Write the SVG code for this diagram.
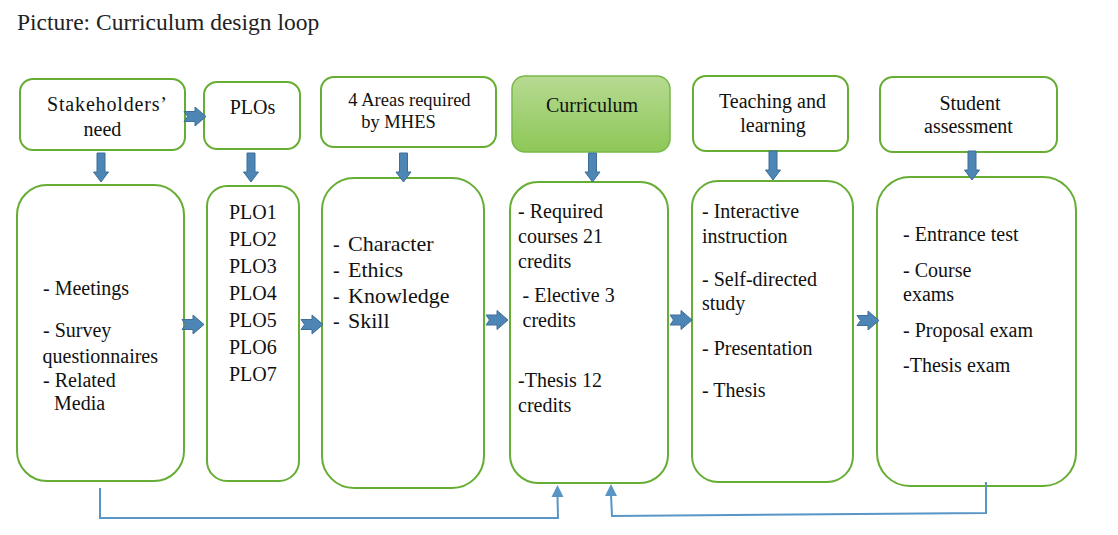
<svg xmlns="http://www.w3.org/2000/svg" width="1118" height="535" viewBox="0 0 1118 535">
<style>
  .box{fill:#fff;stroke:#66ad33;stroke-width:2}
  .t{font-family:"Liberation Serif","DejaVu Serif","Noto Serif",serif;font-size:20px;fill:#111}
  .m{text-anchor:middle}
  .big{font-size:22px}
  .sm{font-size:18.5px}
  .blk{fill:#4d86b5;stroke:#3f6f98;stroke-width:1}
  .fb{fill:none;stroke:#5a96c5;stroke-width:2}
  .ah{fill:#5a96c5}
</style>
<defs>
  <linearGradient id="g" x1="0" y1="0" x2="0" y2="1">
    <stop offset="0" stop-color="#b7da92"/>
    <stop offset="1" stop-color="#8dc757"/>
  </linearGradient>
  <path id="down" d="M-4,0 H4 V19 H7.5 L0,29 L-7.5,19 H-4 Z"/>
  <path id="right" d="M0,4.5 H11 V0 L22,9.5 L11,19 V14.5 H0 L3.5,9.5 Z"/>
</defs>

<g font-family="Liberation Serif, DejaVu Serif, serif">
<text class="t" x="17" y="30" style="font-size:23.5px;fill:#222">Picture: Curriculum design loop</text>

<g id="stakeholders">
  <rect class="box" x="20" y="79" width="165" height="71" rx="13"/>
  <text class="t" x="47" y="111" textLength="120" lengthAdjust="spacing">Stakeholders’</text>
  <text class="t m" x="102.5" y="136">need</text>
</g>
<g id="plos">
  <rect class="box" x="204" y="82" width="96" height="67" rx="13"/>
  <text class="t m" x="252.5" y="114">PLOs</text>
</g>
<g id="areas">
  <rect class="box" x="321" y="77" width="175" height="70" rx="13"/>
  <text class="t m sm" x="409.5" y="105.5">4 Areas required</text>
  <text class="t m sm" x="398.5" y="128">by MHES</text>
</g>
<g id="curriculum">
  <rect x="512" y="76" width="158" height="76" rx="13" fill="url(#g)" stroke="#7ab84b" stroke-width="1.5"/>
  <text class="t m" x="592" y="111.5">Curriculum</text>
</g>
<g id="teaching">
  <rect class="box" x="693" y="76" width="155" height="75" rx="13"/>
  <text class="t m" x="772.5" y="108">Teaching and</text>
  <text class="t m" x="773" y="131.5">learning</text>
</g>
<g id="assessment">
  <rect class="box" x="880" y="77" width="177" height="75" rx="13"/>
  <text class="t m" x="970" y="110">Student</text>
  <text class="t m" x="968.5" y="133">assessment</text>
</g>

<g id="methods">
  <rect class="box" x="17" y="185" width="167" height="296" rx="30"/>
  <text class="t" x="43" y="295">- Meetings</text>
  <text class="t" x="43" y="337">- Survey</text>
  <text class="t" x="42.5" y="362.5">questionnaires</text>
  <text class="t" x="43" y="387">- Related</text>
  <text class="t" x="54" y="410">Media</text>
</g>
<g id="plo-list">
  <rect class="box" x="207" y="186" width="92" height="295" rx="20"/>
  <text class="t" x="229" y="219">PLO1</text>
  <text class="t" x="229" y="246">PLO2</text>
  <text class="t" x="229" y="273">PLO3</text>
  <text class="t" x="229" y="300">PLO4</text>
  <text class="t" x="229" y="327">PLO5</text>
  <text class="t" x="229" y="354">PLO6</text>
  <text class="t" x="229" y="381">PLO7</text>
</g>
<g id="areas-list">
  <rect class="box" x="322" y="178" width="162" height="310" rx="32"/>
  <text class="t" x="333" y="250.5">-</text>
  <text class="t big" x="348" y="250.5">Character</text>
  <text class="t" x="333" y="276.5">-</text>
  <text class="t big" x="348" y="276.5">Ethics</text>
  <text class="t" x="333" y="303">-</text>
  <text class="t big" x="348" y="303">Knowledge</text>
  <text class="t" x="333" y="328">-</text>
  <text class="t big" x="348" y="328">Skill</text>
</g>
<g id="courses">
  <rect class="box" x="510" y="182" width="158" height="301" rx="28"/>
  <text class="t" x="518" y="218">- Required</text>
  <text class="t" x="518" y="243">courses 21</text>
  <text class="t" x="518" y="268">credits</text>
  <text class="t" x="522.5" y="301.5">- Elective 3</text>
  <text class="t" x="522.5" y="326.5">credits</text>
  <text class="t" x="518" y="386.5">-Thesis 12</text>
  <text class="t" x="518" y="411.5">credits</text>
</g>
<g id="teaching-list">
  <rect class="box" x="692" y="181" width="161" height="301" rx="26"/>
  <text class="t" x="702" y="218">- Interactive</text>
  <text class="t" x="702" y="242.5">instruction</text>
  <text class="t" x="702" y="286">- Self-directed</text>
  <text class="t" x="702" y="310">study</text>
  <text class="t" x="702" y="355">- Presentation</text>
  <text class="t" x="702" y="397">- Thesis</text>
</g>
<g id="assessment-list">
  <rect class="box" x="877" y="177" width="199" height="309" rx="33"/>
  <text class="t" x="903" y="240.5">- Entrance test</text>
  <text class="t" x="903" y="277">- Course</text>
  <text class="t" x="903" y="301">exams</text>
  <text class="t" x="903" y="336.5">- Proposal exam</text>
  <text class="t" x="903" y="371.5">-Thesis exam</text>
</g>
</g>

<g id="connectors">
  <use href="#down" class="blk" transform="translate(101,153)"/>
  <use href="#down" class="blk" transform="translate(251,153)"/>
  <use href="#down" class="blk" transform="translate(403.5,153)"/>
  <use href="#down" class="blk" transform="translate(592.5,153)"/>
  <use href="#down" class="blk" transform="translate(773,151)"/>
  <use href="#down" class="blk" transform="translate(972,151)"/>
  <use href="#right" class="blk" transform="translate(184,107)"/>
  <use href="#right" class="blk" transform="translate(182,315)"/>
  <use href="#right" class="blk" transform="translate(301,315)"/>
  <use href="#right" class="blk" transform="translate(486,310.5)"/>
  <use href="#right" class="blk" transform="translate(670,310.5)"/>
  <use href="#right" class="blk" transform="translate(857,311)"/>
  <path class="fb" d="M100,488 V518 H558 L557.5,496"/>
  <polygon class="ah" points="557.5,485 563.5,497 551.5,497"/>
  <path class="fb" d="M986,482 V513 L612,516 L611,495"/>
  <polygon class="ah" points="611,484 617,496 605,496"/>
</g>
</svg>
